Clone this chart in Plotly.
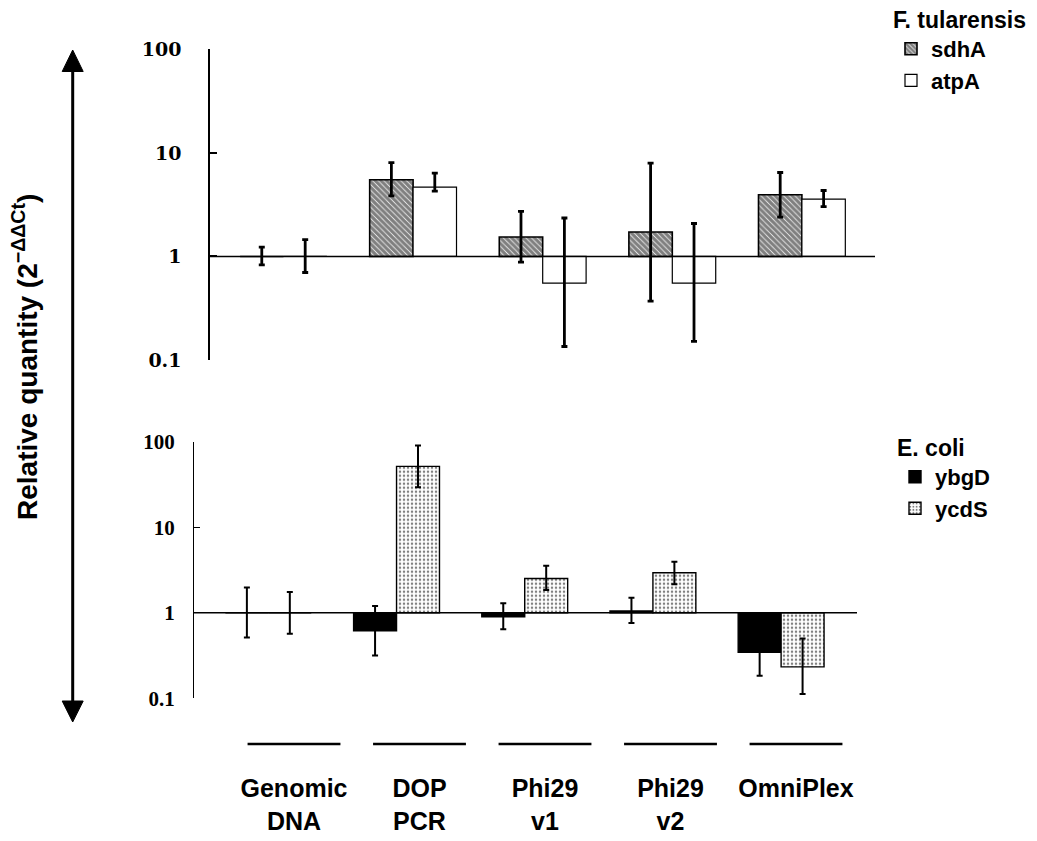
import plotly.graph_objects as go

# ---------------- data ----------------
categories = ["Genomic<br>DNA", "DOP<br>PCR", "Phi29<br>v1", "Phi29<br>v2", "OmniPlex"]
y_tickvals = [0.1, 1, 10, 100]
y_ticktext = ["0.1", "1", "10", "100"]

# F. tularensis (top panel)
sdhA = [1.0, 5.5, 1.54, 1.72, 3.94]
sdhA_hi = [1.23, 8.06, 2.72, 7.95, 6.46]
sdhA_lo = [0.83, 3.85, 0.88, 0.37, 2.40]
atpA = [1.0, 4.67, 0.553, 0.553, 3.58]
atpA_hi = [1.45, 6.37, 2.35, 2.08, 4.33]
atpA_lo = [0.70, 4.27, 0.135, 0.151, 3.03]

# E. coli (bottom panel)
ybgD = [1.0, 0.616, 0.90, 1.05, 0.344]
ybgD_hi = [1.98, 1.20, 1.29, 1.50, 0.65]
ybgD_lo = [0.515, 0.317, 0.64, 0.76, 0.183]
ycdS = [1.0, 51.4, 2.52, 2.94, 0.233]
ycdS_hi = [1.75, 90.0, 3.55, 3.95, 0.50]
ycdS_lo = [0.57, 29.4, 1.84, 2.16, 0.112]

# ---------------- helpers ----------------
W, H = 1037, 841
OFF = 8  # page body margin
idx = list(range(len(categories)))
BW = 0.335
SANS = "Liberation Sans, Arial, sans-serif"


def px_x(p):
    return (p - OFF) / W


def px_y(p):
    return 1 - (p - OFF) / H


def bar(vals, hi, lo, name, offset, marker, xa, ya, legend, ethick):
    return go.Bar(
        x=idx,
        y=[v - 1 for v in vals],
        base=[1] * len(vals),
        width=BW,
        offset=offset,
        name=name,
        marker=marker,
        xaxis=xa,
        yaxis=ya,
        legend=legend,
        error_y=dict(
            type="data",
            symmetric=False,
            array=[h - v for h, v in zip(hi, vals)],
            arrayminus=[v - l for v, l in zip(vals, lo)],
            color="black",
            thickness=ethick,
            width=3,
        ),
        hoverinfo="skip",
    )


hatch = dict(color="white", line=dict(color="black", width=1.6),
             pattern=dict(shape="\\", size=4, solidity=0.8, fgcolor="black", bgcolor="white", fillmode="overlay"))
white = dict(color="white", line=dict(color="black", width=1.2))
black = dict(color="black", line=dict(color="black", width=1.4))
dots = dict(color="white", line=dict(color="black", width=1.4),
            pattern=dict(shape=".", size=4, solidity=0.3, fgcolor="black", bgcolor="white", fillmode="overlay"))

fig = go.Figure()
fig.add_trace(bar(sdhA, sdhA_hi, sdhA_lo, "sdhA", -BW, hatch, "x", "y", "legend", 2.8))
fig.add_trace(bar(atpA, atpA_hi, atpA_lo, "atpA", 0, white, "x", "y", "legend", 2.8))
fig.add_trace(bar(ybgD, ybgD_hi, ybgD_lo, "ybgD", -BW, black, "x2", "y2", "legend2", 2.0))
fig.add_trace(bar(ycdS, ycdS_hi, ycdS_lo, "ycdS", 0, dots, "x2", "y2", "legend2", 2.0))

# category underlines (bottom labelling band)
ux, uy = [], []
for i in idx:
    ux += [i - 0.37, i + 0.37, None]
    uy += [0, 0, None]
fig.add_trace(go.Scatter(x=ux, y=uy, mode="lines", line=dict(color="black", width=2.5),
                         xaxis="x3", yaxis="y3", showlegend=False, hoverinfo="skip"))

common_x = dict(showline=False, showgrid=False, zeroline=False, showticklabels=False, ticks="")
common_y = dict(type="log", range=[-1, 2], showgrid=False, zeroline=False, showline=True,
                linecolor="black", ticks="inside", tickcolor="black",
                tickvals=y_tickvals, ticktext=y_ticktext)

# double-headed arrow on the left (decoration)
AX = 72.7
arrow_shapes = [
    dict(type="line", xref="paper", yref="paper", x0=px_x(AX), x1=px_x(AX), y0=px_y(66), y1=px_y(706),
         line=dict(color="black", width=3)),
    dict(type="path", xref="paper", yref="paper", fillcolor="black", line=dict(color="black", width=1),
         path=f"M{px_x(AX)},{px_y(50)} L{px_x(AX - 10.5)},{px_y(71.5)} L{px_x(AX + 10.5)},{px_y(71.5)} Z"),
    dict(type="path", xref="paper", yref="paper", fillcolor="black", line=dict(color="black", width=1),
         path=f"M{px_x(AX)},{px_y(722)} L{px_x(AX - 10.5)},{px_y(701)} L{px_x(AX + 10.5)},{px_y(701)} Z"),
]

fig.update_layout(
    width=W, height=H,
    margin=dict(l=0, r=0, t=0, b=0, autoexpand=False),
    paper_bgcolor="white", plot_bgcolor="rgba(0,0,0,0)",
    barmode="overlay",
    xaxis=dict(domain=[px_x(210), px_x(875)], range=[-0.567, 4.564], anchor="y", **common_x),
    yaxis=dict(domain=[px_y(360), px_y(49.3)], anchor="x", linewidth=1.5, ticklen=7, tickwidth=1.5,
               ticklabelstandoff=23,
               tickfont=dict(family="DejaVu Serif", size=19, color="black", weight="bold"), **common_y),
    xaxis2=dict(domain=[px_x(194), px_x(857)], range=[-0.58, 4.592], anchor="y2", **common_x),
    yaxis2=dict(domain=[px_y(698.3), px_y(441.7)], anchor="x2", linewidth=1.2, ticklen=6, tickwidth=1.2,
                ticklabelstandoff=14,
                tickfont=dict(family="Liberation Serif", size=21, color="black", weight="bold"), **common_y),
    xaxis3=dict(domain=[px_x(231.25), px_x(858.75)], range=[-0.5, 4.5], anchor="y3",
                showline=False, showgrid=False, zeroline=False, ticks="",
                tickvals=idx, ticktext=categories, ticklabelstandoff=20,
                tickfont=dict(family=SANS, size=25, color="black", weight="bold")),
    yaxis3=dict(domain=[px_y(751), px_y(737)], range=[-1, 1], visible=False),
    legend=dict(title=dict(text="F. tularensis", font=dict(family=SANS, size=23, color="black", weight="bold")),
                x=px_x(891), y=px_y(-2), xanchor="left", yanchor="top",
                font=dict(family=SANS, size=22, color="black", weight="bold"), bgcolor="rgba(0,0,0,0)",
                itemwidth=30, tracegroupgap=0),
    legend2=dict(title=dict(text="E. coli", font=dict(family=SANS, size=23, color="black", weight="bold")),
                 x=px_x(895), y=px_y(426), xanchor="left", yanchor="top",
                 font=dict(family=SANS, size=22, color="black", weight="bold"), bgcolor="rgba(0,0,0,0)",
                 itemwidth=30, tracegroupgap=0),
    shapes=[
        dict(type="line", xref="x domain", yref="y", x0=0, x1=1, y0=1, y1=1,
             line=dict(color="black", width=1.5)),
        dict(type="line", xref="x2 domain", yref="y2", x0=0, x1=1, y0=1, y1=1,
             line=dict(color="black", width=1.5)),
    ] + arrow_shapes,
    annotations=[
        dict(text="Relative quantity (2<sup>\u2212\u0394\u0394Ct</sup>)", textangle=-90,
             xref="paper", yref="paper", x=px_x(25), y=px_y(357), xanchor="center", yanchor="middle",
             showarrow=False,
             font=dict(family=SANS, size=28, color="black", weight="bold")),
    ],
)

fig.write_html("out.html")
